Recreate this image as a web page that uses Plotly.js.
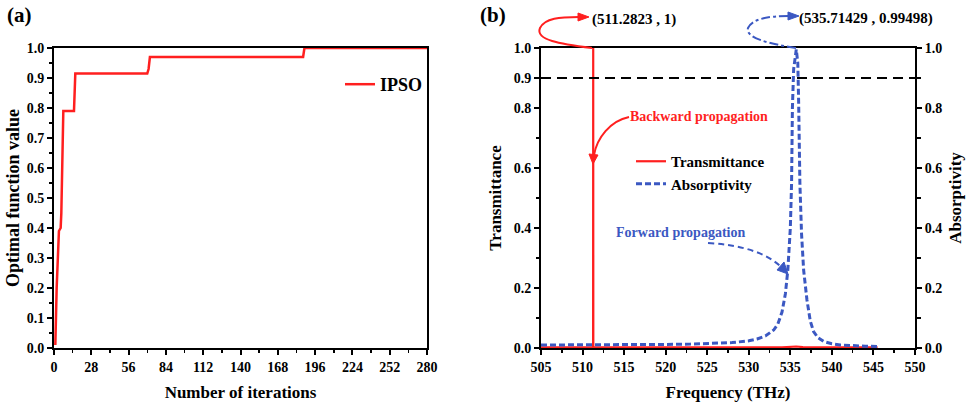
<!DOCTYPE html>
<html>
<head>
<meta charset="utf-8">
<script src="https://cdn.plot.ly/plotly-3.0.1.min.js"></script>
<style>html,body{margin:0;padding:0;background:#fff;}#chart{width:980px;height:406px;}</style>
</head>
<body>
<div id="chart"></div>
<script>
// ---------- Data: panel (a) ----------
const iterations = [1, 2, 3.7, 5, 5.5, 7, 15, 16, 70, 71, 72, 187, 188, 280];
const optimalValue = [0.01, 0.2, 0.39, 0.40, 0.45, 0.79, 0.79, 0.915, 0.915, 0.93, 0.97, 0.97, 1.0, 1.0];

// ---------- Data: panel (b) ----------
const freqT = [505, 511.27, 511.2823, 511.295, 534, 535, 535.7, 536.5, 538, 545.5];
const transmittance = [0.002, 0.002, 1.0, 0.002, 0.002, 0.004, 0.005, 0.003, 0.002, 0.002];

const freqA = [505, 508, 511, 514, 517, 520, 523, 526, 528, 530, 531, 532, 533, 533.5, 534, 534.4, 534.7,
               535.0, 535.15, 535.25, 535.4, 535.71429, 535.9, 536.0, 536.15, 536.35, 536.6, 537.0, 537.4,
               537.8, 538.3, 539, 540, 541, 542, 543, 544, 545.5];
const absorptivity = [0.010, 0.010, 0.010, 0.010, 0.011, 0.012, 0.013, 0.015, 0.018, 0.024, 0.030, 0.040,
                      0.060, 0.080, 0.120, 0.180, 0.260, 0.400, 0.550, 0.800, 0.930, 0.99498, 0.950, 0.820,
                      0.550, 0.380, 0.260, 0.160, 0.090, 0.055, 0.035, 0.022, 0.014, 0.010, 0.008, 0.007,
                      0.006, 0.005];
const threshold = 0.9;

const xTicksA = [0, 28, 56, 84, 112, 140, 168, 196, 224, 252, 280];
const yTicksA = [0, 0.1, 0.2, 0.3, 0.4, 0.5, 0.6, 0.7, 0.8, 0.9, 1.0];
const xTicksB = [505, 510, 515, 520, 525, 530, 535, 540, 545, 550];
const yTicksBLeft = [0, 0.2, 0.4, 0.6, 0.8, 0.9, 1.0];
const yTicksBRight = [0, 0.2, 0.4, 0.6, 0.8, 1.0];

// ---------- Style ----------
const W = 980, H = 406;
const RED = '#ff1f1f', BLUE = '#3b58c2';
const FF = 'Liberation Serif';
const fnt = (size, color) => ({family: FF, size: size, color: color || '#000', weight: 'bold'});
const px = x => x / W, py = y => 1 - y / H;
const P = (x, y) => px(x).toFixed(5) + ',' + py(y).toFixed(5);

const domAx = [px(54), px(427)];
const domBx = [px(541), px(915)];
const domY = [py(348), py(48)];

const axisBase = {
  showgrid: false, zeroline: false, showline: true, linecolor: '#000', linewidth: 2,
  ticks: 'outside', ticklen: 5, tickwidth: 2, tickcolor: '#000', tickfont: fnt(14),
  fixedrange: true
};

const traces = [
  {x: iterations, y: optimalValue, xaxis: 'x', yaxis: 'y', type: 'scatter', mode: 'lines',
   name: 'IPSO', line: {color: RED, width: 2.5}, legend: 'legend'},
  {x: freqT, y: transmittance, xaxis: 'x2', yaxis: 'y2', type: 'scatter', mode: 'lines',
   name: 'Transmittance', line: {color: RED, width: 2.2}, legend: 'legend2'},
  {x: freqA, y: absorptivity, xaxis: 'x2', yaxis: 'y3', type: 'scatter', mode: 'lines',
   name: 'Absorptivity', line: {color: BLUE, width: 3, dash: '6px,3px'}, legend: 'legend2'}
];

const shapes = [
  // threshold line
  {type: 'line', xref: 'x2', yref: 'y2', x0: xTicksB[0], x1: xTicksB[xTicksB.length - 1], y0: threshold, y1: threshold,
   line: {color: '#000', width: 2, dash: '10px,6px'}},
  // red loop to label
  {type: 'path', xref: 'paper', yref: 'paper',
   path: 'M ' + P(592, 48) + ' C ' + P(560, 44) + ' ' + P(535, 40) + ' ' + P(540, 28) + ' C ' + P(545, 18) + ' ' + P(560, 17) + ' ' + P(579, 17),
   line: {color: RED, width: 2}},
  {type: 'path', xref: 'paper', yref: 'paper', path: 'M ' + P(589, 17) + ' L ' + P(578, 13) + ' L ' + P(578, 21) + ' Z',
   fillcolor: RED, line: {color: RED, width: 1}},
  // blue loop to label
  {type: 'path', xref: 'paper', yref: 'paper',
   path: 'M ' + P(796, 48) + ' C ' + P(770, 44) + ' ' + P(745, 38) + ' ' + P(748, 28) + ' C ' + P(752, 19) + ' ' + P(768, 16) + ' ' + P(789, 16),
   line: {color: BLUE, width: 2, dash: 'dashdot'}},
  {type: 'path', xref: 'paper', yref: 'paper', path: 'M ' + P(799, 16) + ' L ' + P(788, 12) + ' L ' + P(788, 20) + ' Z',
   fillcolor: BLUE, line: {color: BLUE, width: 1}},
  // backward propagation arrow
  {type: 'path', xref: 'paper', yref: 'paper',
   path: 'M ' + P(629, 117) + ' C ' + P(610, 121) + ' ' + P(597, 138) + ' ' + P(594, 155),
   line: {color: RED, width: 2}},
  {type: 'path', xref: 'paper', yref: 'paper', path: 'M ' + P(593, 164) + ' L ' + P(589, 154) + ' L ' + P(598, 155) + ' Z',
   fillcolor: RED, line: {color: RED, width: 1}},
  // forward propagation arrow
  {type: 'path', xref: 'paper', yref: 'paper',
   path: 'M ' + P(708, 243) + ' C ' + P(740, 245) + ' ' + P(765, 252) + ' ' + P(780, 266),
   line: {color: BLUE, width: 2, dash: '6px,4px'}},
  {type: 'path', xref: 'paper', yref: 'paper', path: 'M ' + P(788, 274) + ' L ' + P(777, 270) + ' L ' + P(784, 262) + ' Z',
   fillcolor: BLUE, line: {color: BLUE, width: 1}}
];

const annotations = [
  {text: '(a)', xref: 'paper', yref: 'paper', x: px(5), y: py(15), xanchor: 'left', yanchor: 'middle', showarrow: false, font: fnt(21)},
  {text: '(b)', xref: 'paper', yref: 'paper', x: px(478), y: py(15), xanchor: 'left', yanchor: 'middle', showarrow: false, font: fnt(21)},
  {text: '(511.2823 , 1)', xref: 'paper', yref: 'paper', x: px(634), y: py(19), xanchor: 'center', yanchor: 'middle', showarrow: false, font: fnt(15)},
  {text: '(535.71429 , 0.99498)', xref: 'paper', yref: 'paper', x: px(866), y: py(18), xanchor: 'center', yanchor: 'middle', showarrow: false, font: fnt(15)},
  {text: 'Backward propagation', xref: 'paper', yref: 'paper', x: px(699), y: py(116), xanchor: 'center', yanchor: 'middle', showarrow: false, font: fnt(14, RED)},
  {text: 'Forward propagation', xref: 'paper', yref: 'paper', x: px(680), y: py(232), xanchor: 'center', yanchor: 'middle', showarrow: false, font: fnt(14, BLUE)}
];

const layout = {
  width: W, height: H,
  margin: {l: 0, r: 0, t: 0, b: 0},
  paper_bgcolor: '#fff', plot_bgcolor: '#fff',
  showlegend: true,
  xaxis: Object.assign({}, axisBase, {domain: domAx, anchor: 'y', range: [0, 280], tickvals: xTicksA, mirror: true,
    minor: {tickvals: xTicksA.slice(0, -1).map(v => v + 14), ticks: 'outside', ticklen: 3, tickwidth: 1.5, tickcolor: '#000'},
    title: {text: 'Number of iterations', font: fnt(17), standoff: 12}}),
  yaxis: Object.assign({}, axisBase, {domain: domY, anchor: 'x', range: [0, 1], tickvals: yTicksA, tickformat: '.1f', mirror: true,
    minor: {tickvals: yTicksA.slice(0, -1).map(v => v + 0.05), ticks: 'outside', ticklen: 3, tickwidth: 1.5, tickcolor: '#000'},
    title: {text: 'Optimal function value', font: fnt(18), standoff: 2}}),
  xaxis2: Object.assign({}, axisBase, {domain: domBx, anchor: 'y2', range: [505, 550], tickvals: xTicksB, mirror: true,
    minor: {tickvals: xTicksB.slice(0, -1).map(v => v + 2.5), ticks: 'outside', ticklen: 3, tickwidth: 1.5, tickcolor: '#000'},
    title: {text: 'Frequency (THz)', font: fnt(17), standoff: 12}}),
  yaxis2: Object.assign({}, axisBase, {domain: domY, anchor: 'x2', range: [0, 1], tickvals: yTicksBLeft, tickformat: '.1f',
    minor: {tickvals: [0.1, 0.3, 0.5, 0.7], ticks: 'outside', ticklen: 3, tickwidth: 1.5, tickcolor: '#000'},
    title: {text: 'Transmittance', font: fnt(17), standoff: 8}}),
  yaxis3: Object.assign({}, axisBase, {overlaying: 'y2', anchor: 'x2', side: 'right', range: [0, 1], tickvals: yTicksBRight, tickformat: '.1f',
    minor: {tickvals: [0.1, 0.3, 0.5, 0.7, 0.9], ticks: 'outside', ticklen: 4, tickwidth: 1.5, tickcolor: '#000'},
    title: {text: 'Absorptivity', font: fnt(17), standoff: 8}}),
  legend: {x: px(340), y: py(66), xanchor: 'left', yanchor: 'top', bgcolor: 'rgba(0,0,0,0)', font: fnt(18),
    itemwidth: 30, tracegroupgap: 0},
  legend2: {x: px(631), y: py(145), xanchor: 'left', yanchor: 'top', bgcolor: 'rgba(0,0,0,0)', font: fnt(15),
    itemwidth: 30, tracegroupgap: 0},
  shapes: shapes,
  annotations: annotations
};

Plotly.newPlot('chart', traces, layout, {displayModeBar: false, staticPlot: true});
</script>
</body>
</html>
